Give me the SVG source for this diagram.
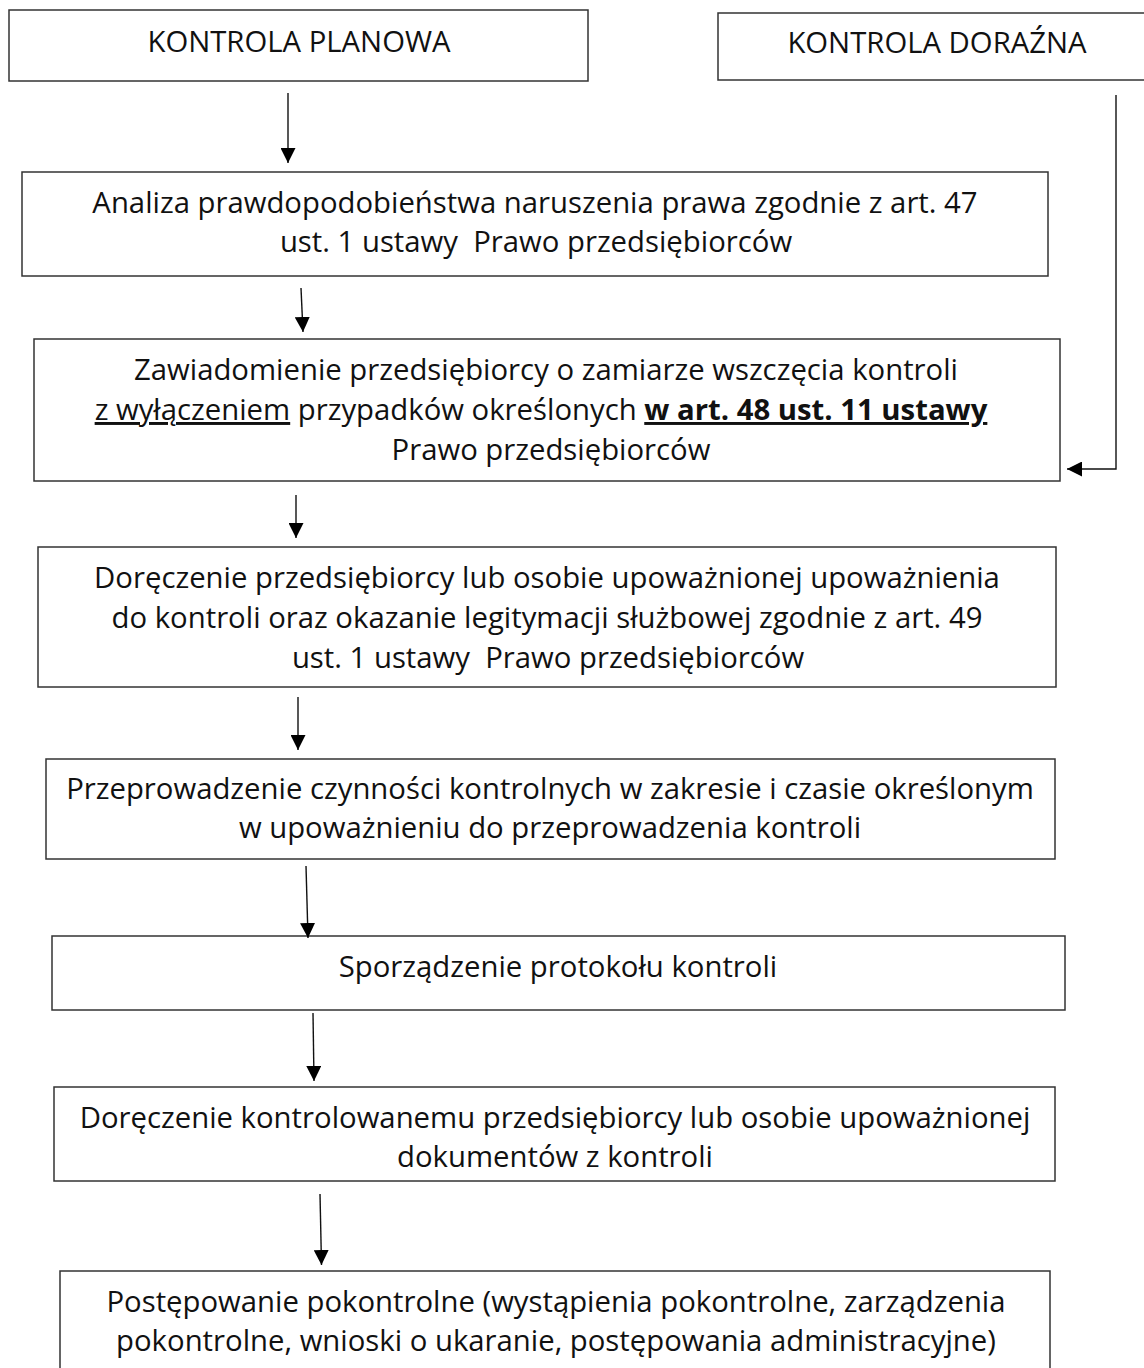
<svg xmlns="http://www.w3.org/2000/svg" width="1144" height="1368" viewBox="0 0 1144 1368">
<style>
  .box { fill: #ffffff; stroke: #333333; stroke-width: 1.5; }
  .t { font-family: "Open Sans", "Noto Sans", "DejaVu Sans", sans-serif; font-size: 29.3px; fill: #111111; text-anchor: middle; white-space: pre; }
  .c { fill: none; stroke: #111111; stroke-width: 1.4; marker-end: url(#ah); }
  .u { text-decoration: underline; }
  .b { font-weight: bold; }
</style>
<defs>
  <marker id="ah" viewBox="0 0 15 15" refX="15" refY="7.5" markerWidth="15" markerHeight="15" markerUnits="userSpaceOnUse" orient="auto">
    <path d="M0,0 L15,7.5 L0,15 Z" fill="#000000"/>
  </marker>
</defs>
<rect width="1144" height="1368" fill="#ffffff"/>

<g id="n-planowa">
  <rect class="box" x="9" y="10" width="579" height="71"/>
  <text class="t" x="299" y="52">KONTROLA PLANOWA</text>
</g>
<g id="n-dorazna">
  <rect class="box" x="718" y="13" width="440" height="67"/>
  <text class="t" x="937" y="53">KONTROLA DORAŹNA</text>
</g>
<g id="n-analiza">
  <rect class="box" x="22" y="172" width="1026" height="104"/>
  <text class="t" x="535" y="213">Analiza prawdopodobieństwa naruszenia prawa zgodnie z art. 47</text>
  <text class="t" x="536" y="252">ust. 1 ustawy  Prawo przedsiębiorców</text>
</g>
<g id="n-zawiadomienie">
  <rect class="box" x="34" y="339" width="1026" height="142"/>
  <text class="t" x="546" y="380">Zawiadomienie przedsiębiorcy o zamiarze wszczęcia kontroli</text>
  <text class="t" x="541" y="420"><tspan class="u">z wyłączeniem</tspan> przypadków określonych <tspan class="b u">w art. 48 ust. 11 ustawy</tspan></text>
  <text class="t" x="551" y="460">Prawo przedsiębiorców</text>
</g>
<g id="n-doreczenie-upow">
  <rect class="box" x="38" y="547" width="1018" height="140"/>
  <text class="t" x="547" y="588">Doręczenie przedsiębiorcy lub osobie upoważnionej upoważnienia</text>
  <text class="t" x="547" y="628">do kontroli oraz okazanie legitymacji służbowej zgodnie z art. 49</text>
  <text class="t" x="548" y="668">ust. 1 ustawy  Prawo przedsiębiorców</text>
</g>
<g id="n-czynnosci">
  <rect class="box" x="46" y="759" width="1009" height="100"/>
  <text class="t" x="550" y="799">Przeprowadzenie czynności kontrolnych w zakresie i czasie określonym</text>
  <text class="t" x="550" y="838">w upoważnieniu do przeprowadzenia kontroli</text>
</g>
<g id="n-protokol">
  <rect class="box" x="52" y="936" width="1013" height="74"/>
  <text class="t" x="558" y="977">Sporządzenie protokołu kontroli</text>
</g>
<g id="n-doreczenie-dok">
  <rect class="box" x="54" y="1087" width="1001" height="94"/>
  <text class="t" x="555" y="1128">Doręczenie kontrolowanemu przedsiębiorcy lub osobie upoważnionej</text>
  <text class="t" x="555" y="1167">dokumentów z kontroli</text>
</g>
<g id="n-pokontrolne">
  <rect class="box" x="60" y="1271" width="990" height="120"/>
  <text class="t" x="556" y="1312">Postępowanie pokontrolne (wystąpienia pokontrolne, zarządzenia</text>
  <text class="t" x="556" y="1351">pokontrolne, wnioski o ukaranie, postępowania administracyjne)</text>
</g>

<g id="connectors">
  <line class="c" x1="288" y1="93" x2="288" y2="163"/>
  <line class="c" x1="301" y1="288" x2="303" y2="332"/>
  <line class="c" x1="296" y1="495" x2="296" y2="538"/>
  <line class="c" x1="298" y1="697" x2="298" y2="750"/>
  <line class="c" x1="306" y1="866" x2="308" y2="938"/>
  <line class="c" x1="313" y1="1013" x2="314" y2="1081"/>
  <line class="c" x1="320" y1="1194" x2="321.5" y2="1265"/>
  <polyline class="c" points="1116,95 1116,469 1067,469"/>
</g>
</svg>
